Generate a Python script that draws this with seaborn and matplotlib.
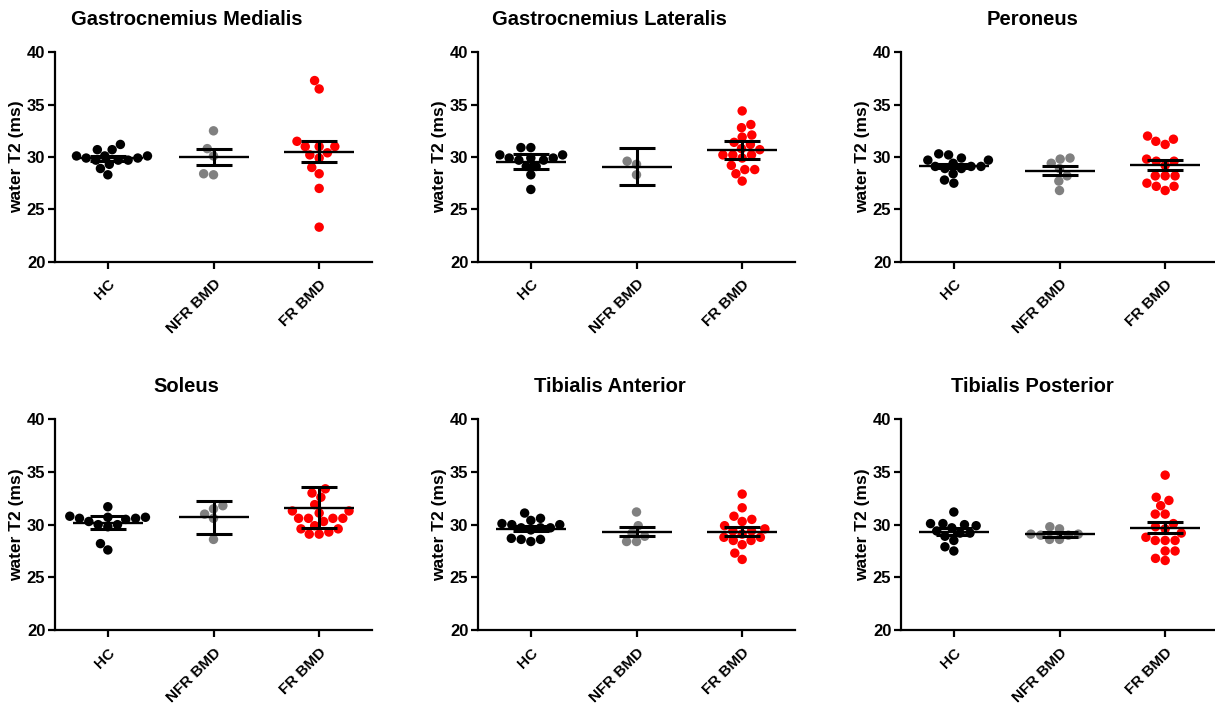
import numpy as np
import pandas as pd
import matplotlib
matplotlib.use("Agg")
import matplotlib.pyplot as plt
import seaborn as sns

groups = ["HC", "NFR BMD", "FR BMD"]
colors = ["#000000", "#808080", "#ff0000"]
titles = ["Gastrocnemius Medialis", "Gastrocnemius Lateralis", "Peroneus",
          "Soleus", "Tibialis Anterior", "Tibialis Posterior"]
y_ticks = [20, 25, 30, 35, 40]

# Gastrocnemius Medialis
gm_hc = [31.2, 30.7, 30.7, 30.1, 30.1, 30.1, 29.9, 29.9, 29.7, 29.7, 29.7, 29.3, 28.9, 28.3]
gm_nfr = [32.5, 30.8, 30.1, 28.4, 28.3]
gm_fr = [37.3, 36.5, 31.5, 31.0, 31.0, 31.0, 30.4, 30.2, 29.9, 29.0, 28.4, 27.0, 23.3]
gm_mean = [29.87, 30.03, 30.51]
gm_sem = [0.22, 0.76, 1.00]

# Gastrocnemius Lateralis
gl_hc = [30.9, 30.9, 30.2, 30.2, 29.9, 29.9, 29.9, 29.7, 29.7, 29.1, 29.1, 28.3, 26.9]
gl_nfr = [29.6, 29.3, 28.3]
gl_fr = [34.4, 33.1, 32.8, 32.1, 31.9, 31.4, 31.2, 30.8, 30.7, 30.2, 30.2, 30.2, 29.9,
         29.2, 28.8, 28.8, 28.4, 27.7]
gl_mean = [29.55, 29.08, 30.67]
gl_sem = [0.70, 1.75, 0.87]

# Peroneus
pe_hc = [30.3, 30.2, 29.9, 29.7, 29.7, 29.4, 29.1, 29.1, 29.1, 28.9, 28.9, 28.4, 27.8, 27.5]
pe_nfr = [29.9, 29.8, 29.4, 28.9, 28.2, 27.7, 26.8]
pe_fr = [32.0, 31.7, 31.5, 31.2, 29.8, 29.6, 29.6, 29.2, 28.2, 28.2, 28.2, 27.5, 27.2, 27.2, 26.8]
pe_mean = [29.14, 28.67, 29.21]
pe_sem = [0.20, 0.43, 0.48]

# Soleus
so_hc = [31.7, 30.8, 30.7, 30.7, 30.6, 30.6, 30.5, 30.3, 30.0, 30.0, 29.8, 28.2, 27.6]
so_nfr = [31.8, 31.5, 31.0, 30.6, 28.6]
so_fr = [33.4, 33.0, 32.6, 31.9, 31.3, 31.3, 31.1, 30.6, 30.6, 30.6, 30.6, 30.3, 29.9,
         29.6, 29.6, 29.3, 29.1, 29.1]
so_mean = [30.19, 30.70, 31.61]
so_sem = [0.60, 1.55, 1.95]

# Tibialis Anterior
ta_hc = [31.1, 30.6, 30.4, 30.1, 30.0, 30.0, 29.7, 29.7, 29.7, 29.5, 28.7, 28.6, 28.6, 28.4]
ta_nfr = [31.2, 29.9, 29.2, 28.9, 28.4, 28.4]
ta_fr = [32.9, 31.6, 30.8, 30.5, 30.3, 29.9, 29.6, 29.4, 29.4, 29.1, 28.8, 28.8, 28.5,
         28.5, 28.1, 27.3, 26.7]
ta_mean = [29.62, 29.33, 29.33]
ta_sem = [0.24, 0.45, 0.40]

# Tibialis Posterior
tp_hc = [31.2, 30.1, 30.1, 30.0, 29.9, 29.7, 29.4, 29.2, 29.2, 28.9, 28.5, 27.9, 27.5]
tp_nfr = [29.8, 29.6, 29.1, 29.1, 29.0, 29.0, 28.6, 28.6]
tp_fr = [34.7, 32.6, 32.3, 31.8, 31.0, 31.0, 30.1, 29.8, 29.6, 29.2, 28.8, 28.5, 28.5,
         28.5, 27.5, 27.5, 26.8, 26.6]
tp_mean = [29.34, 29.08, 29.72]
tp_sem = [0.30, 0.22, 0.53]

panels = [
    (gm_hc, gm_nfr, gm_fr, gm_mean, gm_sem),
    (gl_hc, gl_nfr, gl_fr, gl_mean, gl_sem),
    (pe_hc, pe_nfr, pe_fr, pe_mean, pe_sem),
    (so_hc, so_nfr, so_fr, so_mean, so_sem),
    (ta_hc, ta_nfr, ta_fr, ta_mean, ta_sem),
    (tp_hc, tp_nfr, tp_fr, tp_mean, tp_sem),
]

sns.set_style("ticks")
plt.rcParams["font.family"] = ["Liberation Sans", "DejaVu Sans"]
plt.rcParams["font.weight"] = "bold"
plt.rcParams["axes.labelweight"] = "bold"
plt.rcParams["axes.titleweight"] = "bold"
plt.rcParams["text.color"] = "black"
plt.rcParams["axes.labelcolor"] = "black"
plt.rcParams["axes.titlecolor"] = "black"
plt.rcParams["xtick.color"] = "black"
plt.rcParams["ytick.color"] = "black"
plt.rcParams["xtick.labelcolor"] = "black"
plt.rcParams["ytick.labelcolor"] = "black"

W, H = 1215, 705
fig = plt.figure(figsize=(W / 100, H / 100), dpi=100)

lefts = [55, 478, 901]
rows = [(52.3, 261.7), (419.3, 630.0)]
width = 317

palette = dict(zip(groups, colors))

for i, (hc, nfr, fr, means, sems) in enumerate(panels):
    r, c = divmod(i, 3)
    top, bot = rows[r]
    ax = fig.add_axes([lefts[c] / W, 1 - bot / H, width / W, (bot - top) / H])
    df = pd.DataFrame({
        "group": [groups[0]] * len(hc) + [groups[1]] * len(nfr) + [groups[2]] * len(fr),
        "value": list(hc) + list(nfr) + list(fr),
    })
    sns.swarmplot(data=df, x="group", y="value", hue="group", order=groups,
                  hue_order=groups, palette=palette, size=6.8, linewidth=0,
                  legend=False, ax=ax, zorder=2, warn_thresh=1.0)
    xs = np.arange(len(groups))
    ax.errorbar(xs, means, yerr=sems, fmt="none", ecolor="black", elinewidth=2.2,
                capsize=13, capthick=2.2, zorder=5)
    ax.scatter(xs, means, marker="_", s=51 ** 2, linewidths=1.7, color="black", zorder=6)

    ax.set_xlim(-0.5, 2.5)
    ax.set_ylim(20, 40)
    ax.set_yticks(y_ticks)
    ax.set_ylabel("water T2 (ms)", fontsize=12.5, fontweight="bold", color="black")
    ax.yaxis.set_label_coords(-0.097, 0.5)
    ax.set_xlabel("")
    ax.set_xticks(xs)
    ax.set_xticklabels(groups, rotation=45, ha="right", rotation_mode="anchor",
                       fontsize=11, fontweight="bold", color="black")
    for lab in ax.get_yticklabels():
        lab.set_fontweight("bold")
        lab.set_fontsize(12)
        lab.set_color("black")
    ax.tick_params(axis="both", direction="out", length=5, width=1.6, color="black",
                   pad=2)
    ax.tick_params(axis="x", pad=6)
    for s in ["top", "right"]:
        ax.spines[s].set_visible(False)
    for s in ["left", "bottom"]:
        ax.spines[s].set_linewidth(1.6)
        ax.spines[s].set_color("black")
    ax.set_title(titles[i], fontsize=14.5, fontweight="bold", x=0.415, pad=20,
                 color="black")

fig.savefig("out.png", dpi=100)
